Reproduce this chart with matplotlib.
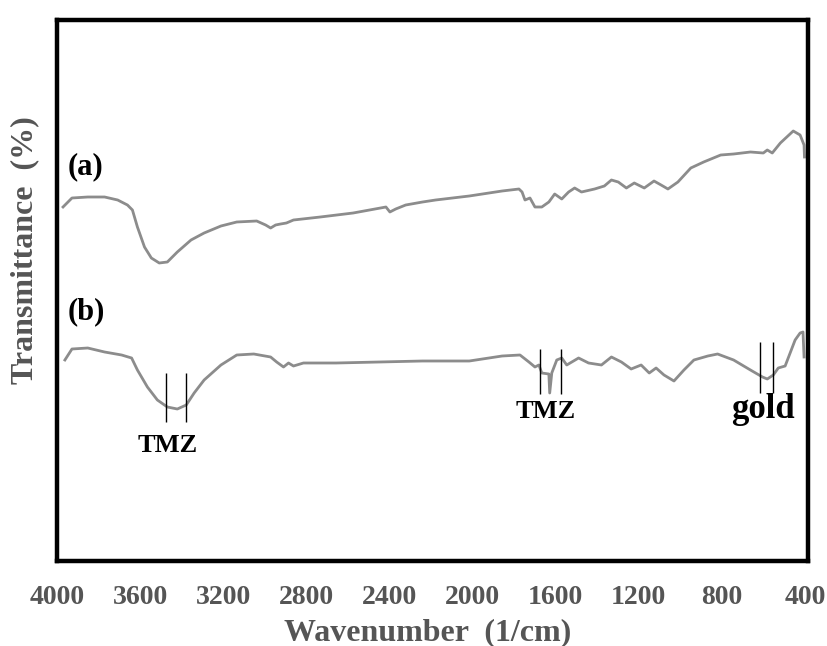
import numpy as np
import matplotlib
matplotlib.use("Agg")
from matplotlib import pyplot as plt

# FTIR spectra (wavenumber in 1/cm, transmittance in arbitrary units)
wn_a = [3971, 3928, 3852, 3771, 3708, 3661, 3637, 3613, 3579, 3546, 3508, 3469, 3421, 3355,
		3292, 3211, 3135, 3039, 2996, 2972, 2948, 2924, 2896, 2862, 2733, 2575, 2417, 2398,
		2370, 2322, 2241, 2178, 2016, 1858, 1777, 1762, 1748, 1724, 1700, 1667, 1633, 1605,
		1571, 1538, 1509, 1476, 1413, 1366, 1332, 1299, 1260, 1222, 1174, 1127, 1093, 1060,
		1012, 950, 888, 806, 744, 663, 601, 582, 558, 519, 457, 424, 405, 403]
tr_a = [354, 363, 364, 364, 361, 356, 351, 334, 314, 303, 298, 299, 309, 321,
		328, 335, 339, 340, 336, 333, 336, 337, 338, 341, 344, 348, 354, 349,
		352, 356, 359, 361, 365, 370, 372, 369, 361, 363, 354, 354, 359, 367,
		362, 369, 373, 369, 372, 375, 381, 379, 373, 378, 373, 380, 376, 372,
		379, 393, 399, 406, 407, 409, 408, 411, 408, 418, 430, 426, 416, 404]

wn_b = [3962, 3928, 3852, 3771, 3689, 3641, 3613, 3565, 3517, 3469, 3421, 3378, 3340, 3292,
		3211, 3135, 3053, 2972, 2943, 2910, 2886, 2862, 2814, 2657, 2241, 2016, 1858, 1772,
		1729, 1700, 1681, 1667, 1633, 1629, 1619, 1595, 1571, 1547, 1490, 1442, 1380, 1332,
		1284, 1237, 1189, 1150, 1117, 1079, 1031, 983, 935, 868, 821, 744, 663, 605,
		582, 553, 529, 496, 472, 448, 424, 410, 405]
tr_b = [201, 212, 213, 209, 206, 203, 191, 174, 161, 154, 152, 156, 168, 181,
		196, 206, 207, 204, 199, 194, 198, 195, 198, 198, 200, 200, 205, 206,
		199, 194, 196, 188, 187, 168, 188, 201, 203, 196, 203, 198, 196, 204,
		199, 192, 196, 188, 193, 186, 180, 191, 201, 205, 207, 201, 191, 184,
		182, 186, 193, 195, 208, 221, 228, 229, 204]

# peak markers: pairs of wavenumbers, bar span, label text and label position
marks_wn = [(3474, 3379), (1677, 1576), (615, 553)]
marks_span = [(139, 188), (167, 212), (168, 219)]
mark_text = ["TMZ", "TMZ", "gold"]
mark_pos = [(3469, 116), (1648, 149), (605, 151)]
mark_size = [19, 19, 25]

panel_text = ["(a)", "(b)"]
panel_pos = [(3950, 394), (3950, 249)]

xticks = [4000, 3600, 3200, 2800, 2400, 2000, 1600, 1200, 800, 400]

serif = ["Liberation Serif", "DejaVu Serif"]
curve_col = "#8c8c8c"
label_col = "#555555"

fig = plt.figure(figsize=(8.28, 6.46), dpi=100)
ax = fig.add_axes([57/828, 85/646, 751/828, 541/646])

ax.plot(wn_a, tr_a, color=curve_col, lw=2.0, solid_joinstyle="round")
ax.plot(wn_b, tr_b, color=curve_col, lw=2.0, solid_joinstyle="round")

for (w1, w2), (lo, hi) in zip(marks_wn, marks_span):
	ax.vlines([w1, w2], lo, hi, color="black", lw=1.0)
for txt, (w, t), s in zip(mark_text, mark_pos, mark_size):
	ax.text(w, t, txt, ha="center", va="center", fontsize=s, fontweight="bold",
			family=serif, color="black")

for txt, (w, t) in zip(panel_text, panel_pos):
	ax.text(w, t, txt, ha="left", va="center", fontsize=22, fontweight="bold",
			family=serif, color="black")

ax.set_xlim(3976, 386)
ax.set_ylim(0, 541)
ax.set_xticks(xticks)
ax.set_xticklabels([str(v) for v in xticks], family=serif, fontweight="bold",
				   fontsize=20, color=label_col)
ax.tick_params(axis="x", length=0, pad=17)
ax.set_yticks([])
for sp in ax.spines.values():
	sp.set_linewidth(3.2)
	sp.set_color("black")

fig.text(428/828, 1 - 633/646, "Wavenumber  (1/cm)", ha="center", va="center",
		 fontsize=23, fontweight="bold", family=serif, color=label_col)
fig.text(25/828, 1 - 250/646, "Transmittance  (%)", ha="center", va="center",
		 rotation=90, fontsize=23, fontweight="bold", family=serif, color=label_col)

fig.savefig("out.png", dpi=100)
